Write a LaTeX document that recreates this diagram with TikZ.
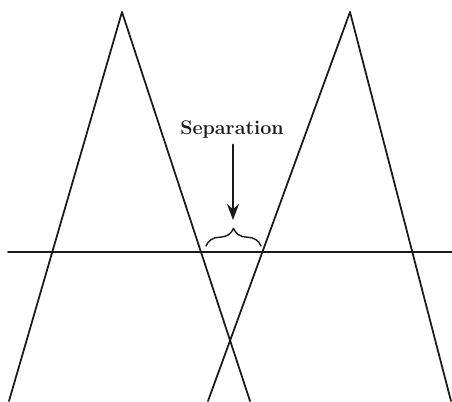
\documentclass[tikz,border=0pt]{standalone}
\usepackage{tikz}
\usetikzlibrary{arrows.meta, decorations.pathreplacing, positioning}
\definecolor{inkblack}{HTML}{1A1A1A}

\begin{document}
\begin{tikzpicture}[x=0.25mm, y=-0.25mm, line cap=round, line join=round]
      \useasboundingbox (0,0) rectangle (452,401);

      % Vértices de los picos
      \coordinate (apexL) at (122,12);
      \coordinate (apexR) at (350,12);

      % Pico izquierdo
      \draw[line width=1.25pt, inkblack] (9,401) -- (apexL) -- (250,401);

      % Pico derecho
      \draw[line width=1.25pt, inkblack] (208,401) -- (apexR) -- (451,401);

      % Línea base horizontal
      \draw[line width=1.1pt, inkblack] (8,252) -- (452,252);

      % Llave entre los picos
      \draw[line width=1pt, inkblack, decorate, decoration={brace, amplitude=4.4mm}] (206,246) -- (261,246);
      \coordinate (tip) at (233,220);

      % Etiqueta y flecha
      \node[font=\fontsize{14}{16}\selectfont\bfseries, inkblack, inner sep=1pt] (sep) at (232,130) {Separation};
      \draw[line width=1.2pt, inkblack, -{Stealth[length=4mm, width=3mm]}] (sep.south -| tip) ++(0,4) -- (tip);
    \end{tikzpicture}
\end{document}
